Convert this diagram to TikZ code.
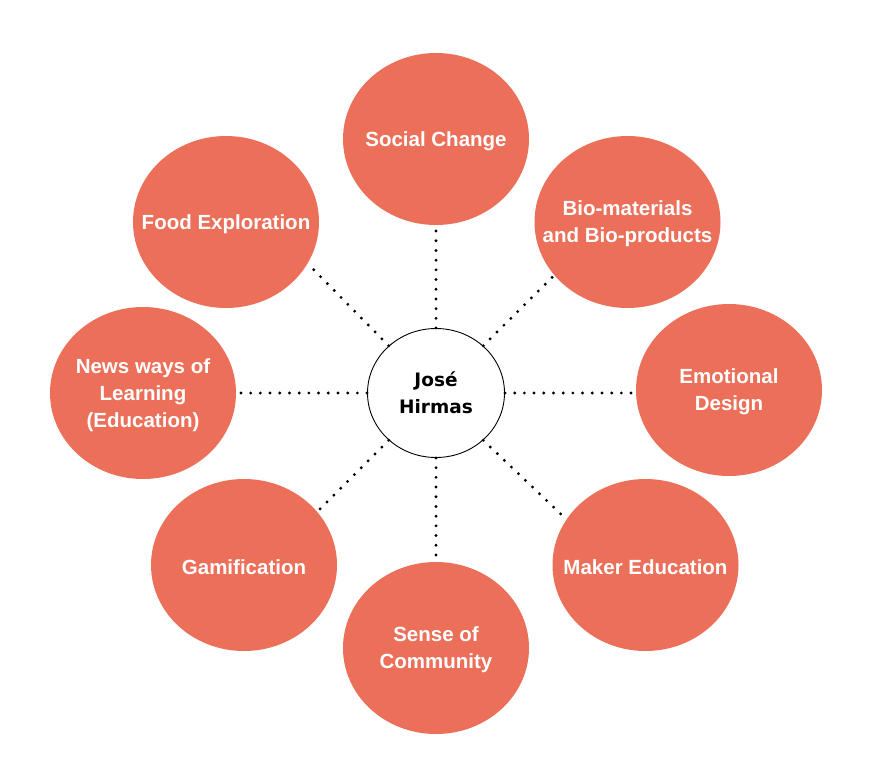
\documentclass[tikz,border=0pt]{standalone}
\usepackage{fontspec}
\setmainfont{Liberation Sans}
\newfontfamily\heavyfont{DejaVu Sans}
\usetikzlibrary{shapes.geometric}
\definecolor{coral}{RGB}{236,111,90}
\begin{document}
\begin{tikzpicture}[x=1pt,y=-1pt,
  tag/.style={text=white,align=center,inner sep=0pt,yshift=-2pt,font=\fontsize{20.5}{27}\selectfont\bfseries},
  topic/.style={ellipse,fill=coral,minimum width=186pt,minimum height=172pt,inner sep=0pt,label={[tag]center:#1}},
  hub/.style={ellipse,draw,line width=0.9pt,fill=white,minimum width=137pt,minimum height=129pt,inner sep=0pt,align=center,font=\heavyfont\fontsize{18.5}{27}\selectfont\bfseries},
  link/.style={line width=3.2pt,line cap=round,dash pattern=on 0pt off 9.7pt}]
\useasboundingbox (0,0) rectangle (876,784);
\node [hub] (me) at (436,393) {José\\Hirmas};
\node [topic={Social Change}] (social) at (436,139) {};
\node [topic={Bio-materials\\and Bio-products}] (bio) at (627.5,222) {};
\node [topic={Emotional\\Design}] (emo) at (729,390) {};
\node [topic={Maker Education}] (maker) at (645.5,565) {};
\node [topic={Sense of\\Community}] (sense) at (436,648) {};
\node [topic={Gamification}] (gamif) at (244,565) {};
\node [topic={News ways of\\Learning\\(Education)}] (news) at (143,393) {};
\node [topic={Food Exploration}] (food) at (226,222) {};
\draw [link] (me.north) -- (social.south);
\draw [link] (me.45) -- (bio.216);
\draw [link] (me.east) -- (me.east -| emo.west);
\draw [link] (me.-45) -- (maker.150);
\draw [link] (me.south) -- (sense.north);
\draw [link] (me.-135) -- (gamif.36);
\draw [link] (me.west) -- (news.east);
\draw [link] (me.135) -- (food.-27);
\end{tikzpicture}
\end{document}
